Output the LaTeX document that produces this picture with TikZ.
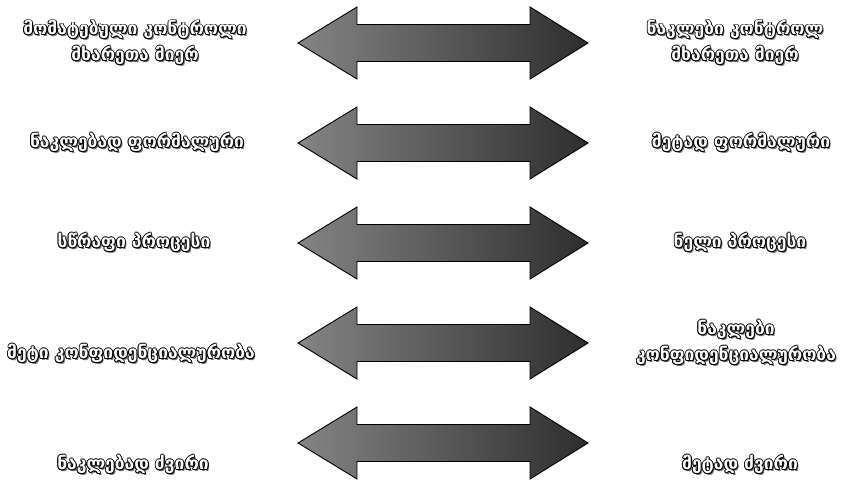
\documentclass[tikz,border=0pt]{standalone}
\usepackage{fontspec}
\newfontfamily\geofont{DejaVu Sans}[Script=Georgian]
\definecolor{arrowlight}{RGB}{132,132,132}
\definecolor{arrowdark}{RGB}{46,46,46}
\definecolor{shadowgray}{RGB}{120,120,120}

% outlined white lettering with a soft drop shadow
\newcommand\glowat[3]{\rlap{\kern#1\raisebox{#2}{#3}}}
\newcommand\outl[1]{%
  \glowat{1.6pt}{-1.6pt}{\color{shadowgray}#1}%
  \glowat{0.9pt}{0pt}{#1}\glowat{-0.9pt}{0pt}{#1}%
  \glowat{0pt}{0.9pt}{#1}\glowat{0pt}{-0.9pt}{#1}%
  \glowat{0.65pt}{0.65pt}{#1}\glowat{-0.65pt}{0.65pt}{#1}%
  \glowat{0.65pt}{-0.65pt}{#1}\glowat{-0.65pt}{-0.65pt}{#1}%
  {\color{white}#1}}

\tikzset{
  label/.style={align=center, inner sep=0pt, text=black,
    font=\geofont\bfseries\fontsize{17.5}{26}\selectfont},
  dblarrow/.style={draw=black, line width=0.9pt, line join=miter,
    left color=arrowlight, right color=arrowdark},
}

\begin{document}
\begin{tikzpicture}[x=1bp, y=-1bp]
\useasboundingbox (0,0) rectangle (848,487);

% the five two-headed arrows
\foreach \r/\cy in {1/43, 2/143, 3/243, 4/343, 5/443}{
  \path[dblarrow] (298,\cy) -- (357,\cy-36) -- (357,\cy-18.5) -- (530,\cy-18.5)
    -- (530,\cy-36) -- (588,\cy) -- (530,\cy+36) -- (530,\cy+18.5)
    -- (357,\cy+18.5) -- (357,\cy+36) -- cycle;
}

% left-hand column
\node[label] (l1) at (135,43)  {\outl{მომატებული კონტროლი}\\\outl{მხარეთა მიერ}};
\node[label] (l2) at (137,143) {\outl{ნაკლებად ფორმალური}};
\node[label] (l3) at (134,243) {\outl{სწრაფი პროცესი}};
\node[label] (l4) at (131,354) {\outl{მეტი კონფიდენციალურობა}};
\node[label] (l5) at (133,465) {\outl{ნაკლებად ძვირი}};

% right-hand column
\node[label] (r1) at (735,43)  {\outl{ნაკლები კონტროლ}\\\outl{მხარეთა მიერ}};
\node[label] (r2) at (741,143) {\outl{მეტად ფორმალური}};
\node[label] (r3) at (740,243) {\outl{ნელი პროცესი}};
\node[label] (r4) at (736,343) {\outl{ნაკლები}\\\outl{კონფიდენციალურობა}};
\node[label] (r5) at (740,465) {\outl{მეტად ძვირი}};
\end{tikzpicture}
\end{document}
